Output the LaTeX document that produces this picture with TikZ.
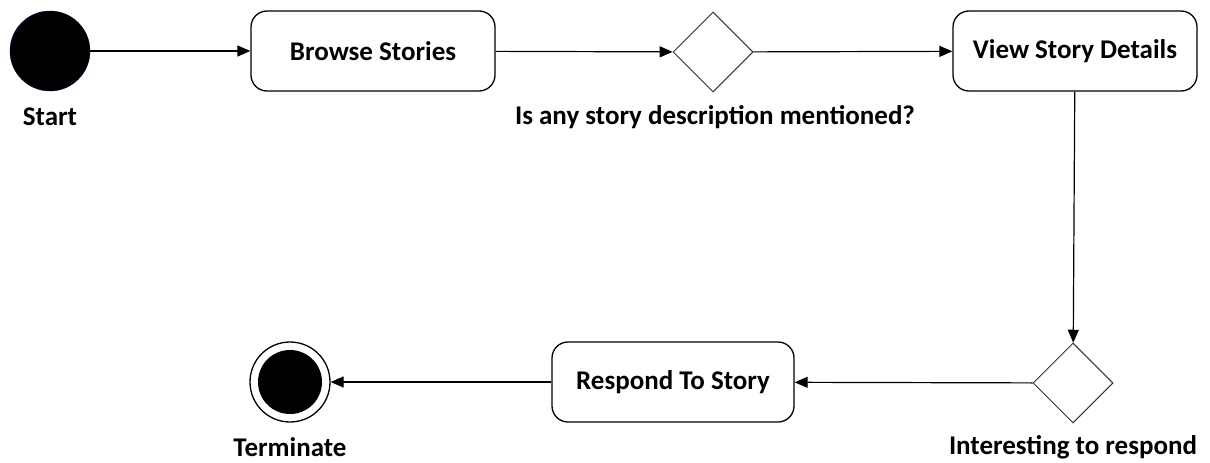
\documentclass[tikz,border=0pt]{standalone}
\usepackage{fontspec}
\setmainfont{Carlito}
\usetikzlibrary{arrows.meta,shapes.geometric}
\begin{document}
\begin{tikzpicture}[x=1pt,y=-1pt,
  every node/.style={font=\fontsize{27}{30}\selectfont\bfseries},
  activity/.style={draw, line width=1.3pt, rounded corners=16pt, minimum width=244pt, minimum height=80pt, inner sep=0pt},
  decision/.style={draw=black!80, line width=1pt, diamond, minimum width=80pt, minimum height=80pt, inner sep=0pt},
  flow/.style={line width=1.2pt, -{Triangle[length=13pt,width=11pt]}},
  caption/.style={inner sep=0pt}]
\useasboundingbox (0,0) rectangle (1210,463);

% initial node
\node[circle, fill=black, draw=black!70!blue, minimum size=80pt, inner sep=0pt] (start) at (50,51) {};
\node[caption] (startlbl) at (50,117) {Start};

% activities
\node[activity] (browse) at (373,51) {Browse Stories};
\node[decision] (d1) at (713,52) {};
\node[caption] (d1lbl) at (715,117) {Is any story description mentioned?};
\node[activity] (view) at (1075,51) {View Story Details};

\node[decision] (d2) at (1073,383) {};
\node[caption] (d2lbl) at (1073,447) {Interesting to respond};
\node[activity, minimum width=242pt] (respond) at (673,382) {Respond To Story};

% final node
\node[circle, draw, line width=1.3pt, minimum size=80pt, inner sep=0pt] (stop) at (290,382) {};
\node[circle, fill=black, minimum size=64pt, inner sep=0pt] (stopin) at (290,382) {};
\node[caption] (stoplbl) at (290,447) {Terminate};

% control flow
\draw[flow] (start) -- (browse);
\draw[flow] (browse) -- (d1);
\draw[flow] (d1) -- (view);
\draw[flow] (view) -- (d2);
\draw[flow] (d2) -- (respond);
\draw[flow] (respond) -- (stop);
\end{tikzpicture}
\end{document}
